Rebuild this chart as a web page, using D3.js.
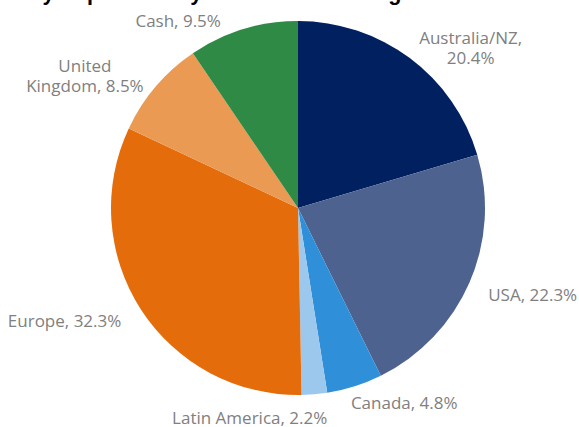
<!DOCTYPE html>
<html>
<head>
<meta charset="utf-8">
<script src="https://cdn.jsdelivr.net/npm/d3@7"></script>
<style>
  body { margin: 0; background: #fff; }
  svg { display: block; }
</style>
</head>
<body>
<div id="chart"></div>
<script>
// data
const regions = ["Australia/NZ", "USA", "Canada", "Latin America", "Europe", "United Kingdom", "Cash"]
const weights = [20.4, 22.3, 4.8, 2.2, 32.3, 8.5, 9.5]
const sliceColors = ["#002060", "#4e6290", "#2f8fd9", "#9bc8ec", "#e46c0a", "#eb9a54", "#2f8a45"]
const titleText = "Key Exposures by Location of Listing"

function drawPie() {
  const width = 579
  const height = 427
  const dims = { cx: 298, cy: 208, radius: 187, labelGap: 14, lineHeight: 20 }

  const data = regions.map((r, i) => ({ name: r, value: weights[i], color: sliceColors[i] }))

  // where a label wraps onto a second line
  const breakAfter = { "Australia/NZ": "Australia/NZ,", "United Kingdom": "United" }
  const labelLines = d => {
    const full = `${d.name}, ${d.value.toFixed(1)}%`
    const b = breakAfter[d.name]
    return b ? [b, full.slice(b.length).trim()] : [full]
  }
  // small shifts so labels sit where the original chart put them
  const nudge = {
    "Australia/NZ": [1, 1],
    "USA": [6, 7],
    "Canada": [-8, 3],
    "Latin America": [-66, 10],
    "Europe": [-8, 3.5],
    "United Kingdom": [-1.5, -1.5],
    "Cash": [-18, 5],
  }

  const svg = d3.select("#chart")
    .append("svg")
    .attr("width", width)
    .attr("height", height)

  // title (cut off at the top edge in the original)
  svg.append("text")
    .attr("x", 15)
    .attr("y", 0)
    .attr("font-family", "Liberation Sans, Arial, sans-serif")
    .attr("font-weight", "bold")
    .attr("font-size", 21.6)
    .attr("fill", "#000")
    .text(titleText)

  const bounds = svg.append("g")
    .attr("transform", `translate(${dims.cx}, ${dims.cy})`)

  const pie = d3.pie().sort(null).value(d => d.value)
  const arcs = pie(data)
  const arc = d3.arc().innerRadius(0).outerRadius(dims.radius)

  bounds.selectAll("path.slice")
    .data(arcs)
    .join("path")
      .attr("class", "slice")
      .attr("d", arc)
      .attr("fill", d => d.data.color)

  // labels
  const labelR = dims.radius + dims.labelGap
  const labels = bounds.selectAll("text.label")
    .data(arcs)
    .join("text")
      .attr("class", "label")
      .attr("font-family", "Open Sans, sans-serif")
      .attr("font-size", 17)
      .attr("fill", "#808080")
      .attr("text-anchor", "middle")

  labels.each(function(d) {
    const el = d3.select(this)
    const lines = labelLines(d.data)
    lines.forEach(l => el.append("tspan").attr("x", 0).text(l))
    const w = this.getBBox().width
    const a = (d.startAngle + d.endAngle) / 2
    const s = Math.sin(a)
    const side = s > 0.2 ? 1 : s < -0.2 ? -1 : 0
    const [ndx, ndy] = nudge[d.data.name] || [0, 0]
    const px = labelR * s + side * w / 2 + ndx
    const py = -labelR * Math.cos(a) + ndy
    const n = lines.length
    el.selectAll("tspan")
      .attr("x", px)
      .attr("y", (_, i) => py - (n - 1) * dims.lineHeight / 2 + i * dims.lineHeight + 6)
  })
}

drawPie()
</script>
</body>
</html>
